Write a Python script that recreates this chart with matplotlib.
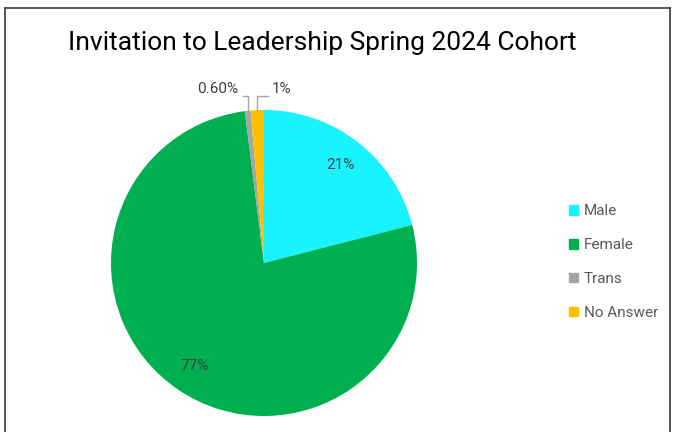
import matplotlib.pyplot as plt
from matplotlib.lines import Line2D
import numpy as np

# data
labels = ['Male', 'Female', 'Trans', 'No Answer']
values = [21, 77, 0.6, 1.4]
pct_text = ['21%', '77%', '0.60%', '1%']
colors = ['#19F3FF', '#00B050', '#A5A5A5', '#FFC000']

plt.rcParams['font.family'] = ['Roboto', 'DejaVu Sans']

fig = plt.figure(figsize=(6.76, 4.32), dpi=100)
W, H = 676, 432

# frame (bottom cropped off in the reference)
for xs, ys in [([5, 5], [432, 8]), ([5, 670], [8, 8]), ([670, 670], [8, 432])]:
    fig.add_artist(Line2D([x / W for x in xs], [1 - y / H for y in ys],
                          color='#3a3a3a', lw=1.2, transform=fig.transFigure))

fig.text(68 / W, 1 - 43 / H, 'Invitation to Leadership Spring 2024 Cohort',
         fontsize=19, color='#000000', va='center', ha='left',
         family=['Liberation Sans Narrow', 'Roboto', 'DejaVu Sans'])

ax = fig.add_axes([111 / W, 1 - 416 / H, 306 / W, 306 / H])
wedges, _ = ax.pie(values, colors=colors, startangle=90, counterclock=False,
                   radius=1, wedgeprops=dict(linewidth=0))
ax.set_xlim(-1, 1)
ax.set_ylim(-1, 1)
ax.set_aspect('equal')
ax.axis('off')

# inside labels
for i in [0, 1]:
    w = wedges[i]
    ang = np.deg2rad((w.theta1 + w.theta2) / 2)
    ax.text(0.81 * np.cos(ang), 0.81 * np.sin(ang), pct_text[i], ha='center', va='center',
            fontsize=11, color='#404040')

# outside labels with leader lines
line_y = 1.09
ends = {2: (-0.137, -0.17, 'right'), 3: (0.026, 0.052, 'left')}
for i, (lx, tx, ha) in ends.items():
    w = wedges[i]
    ang = np.deg2rad((w.theta1 + w.theta2) / 2)
    x0, y0 = np.cos(ang), np.sin(ang)
    ax.plot([x0, x0, lx], [y0, line_y, line_y], color='#A5A5A5', lw=1, clip_on=False)
    ax.text(tx, 1.137, pct_text[i], ha=ha, va='center', fontsize=11, color='#404040')

handles = [plt.Rectangle((0, 0), 1, 1, color=c) for c in colors]
fig.legend(handles, labels, loc='center left', bbox_to_anchor=(555 / W, 1 - 262 / H),
           frameon=False, fontsize=11, labelcolor='#595959', handlelength=0.6,
           handleheight=0.6, handletextpad=0.4, labelspacing=1.3)

fig.savefig('out.png', dpi=100)
